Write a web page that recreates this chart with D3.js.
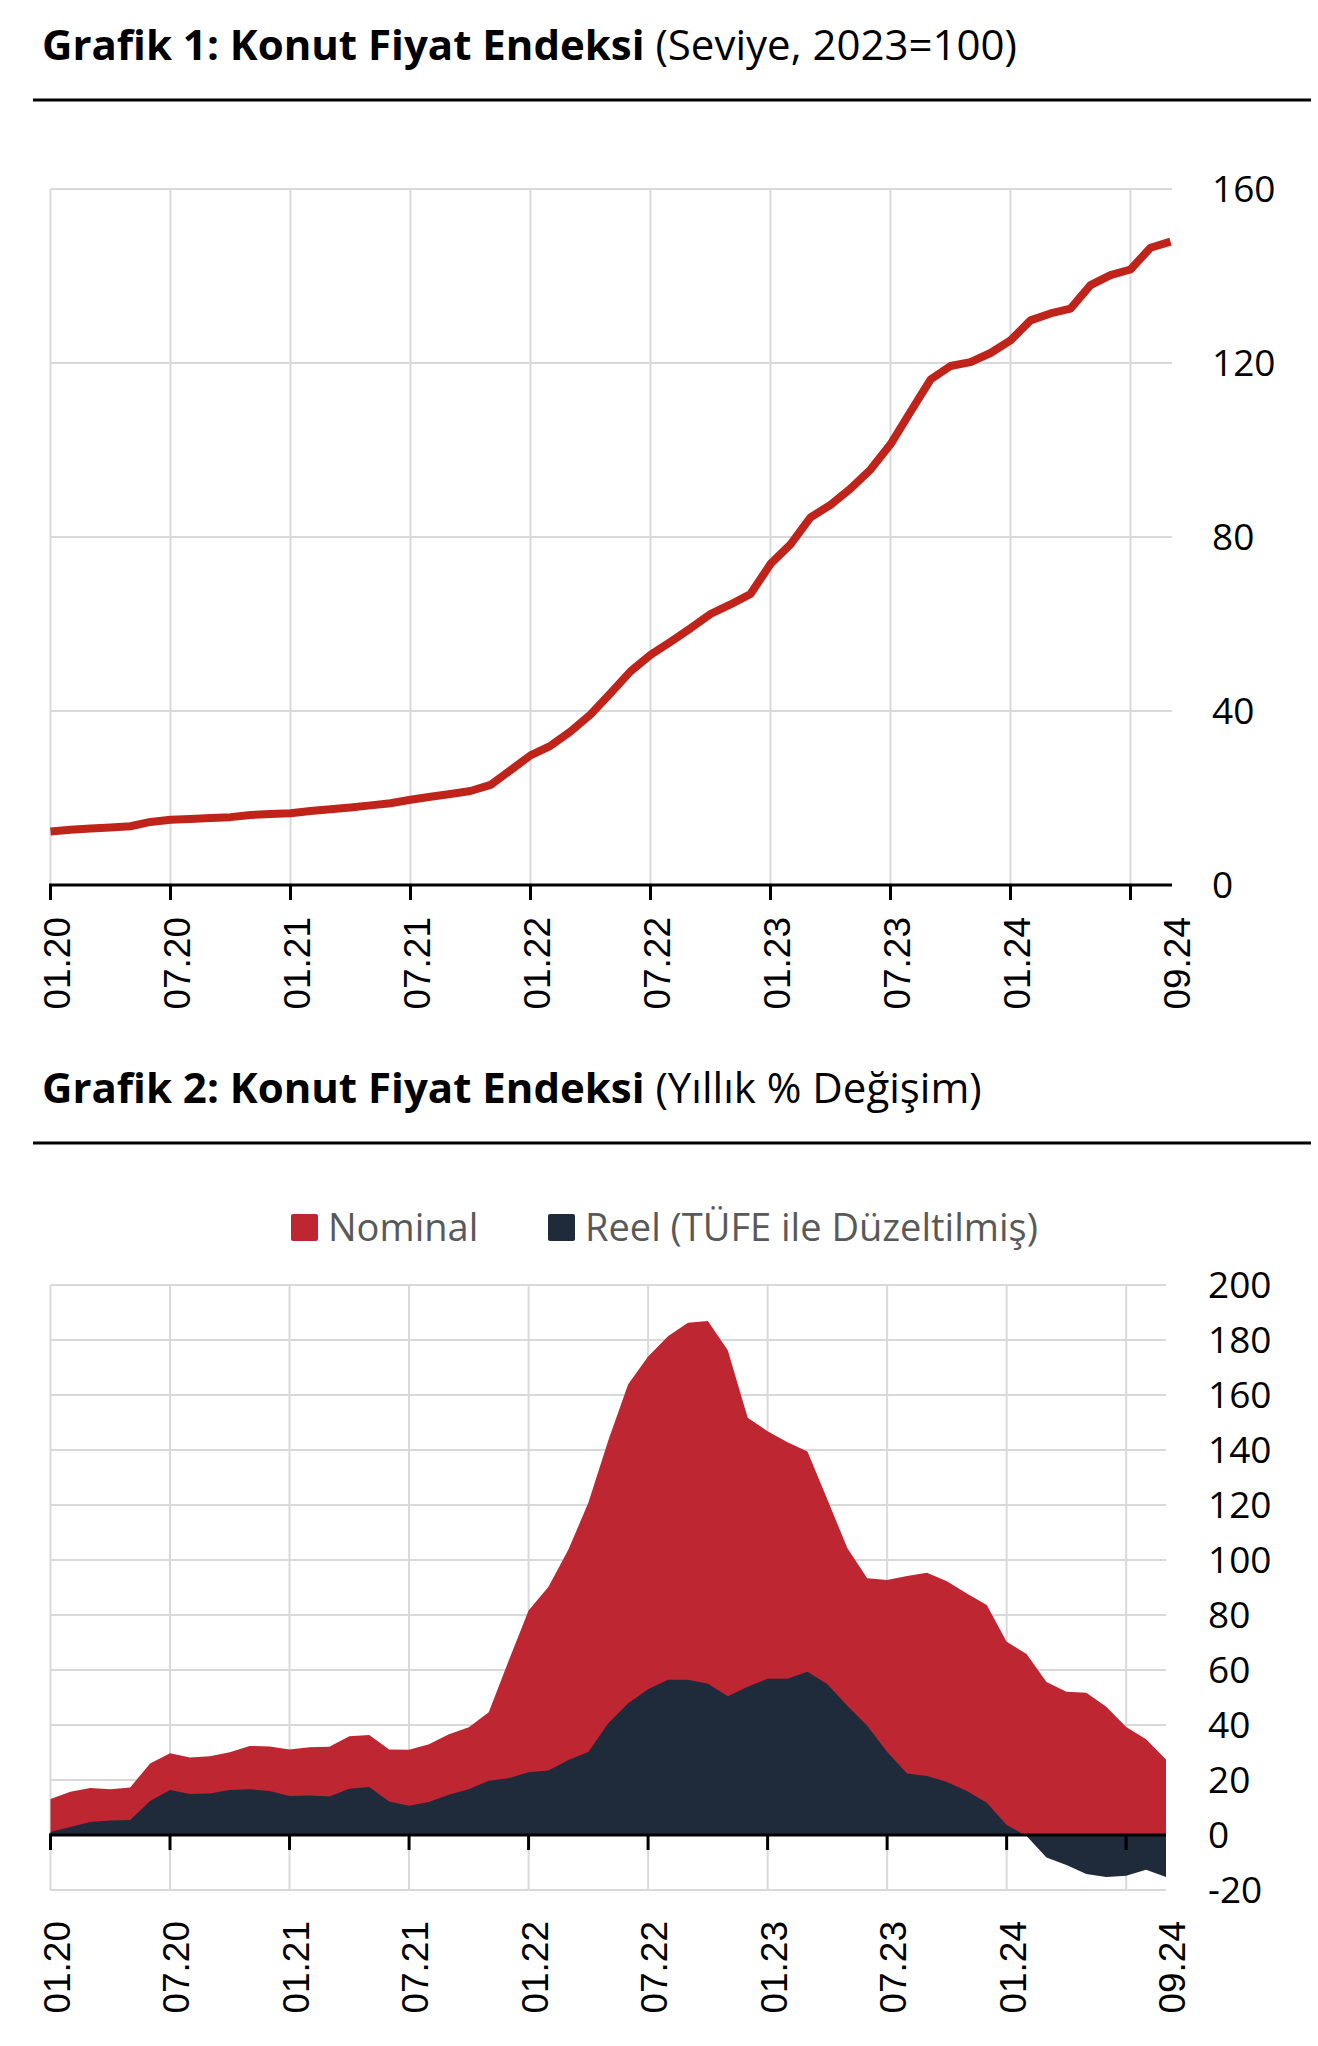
<!DOCTYPE html>
<html>
<head>
<meta charset="utf-8">
<script src="https://cdn.jsdelivr.net/npm/d3@7"></script>
<style>
  body { margin: 0; background: #fff; }
  svg { display: block; }
  .grid { stroke: #d9d9d9; stroke-width: 2; }
  .axis { stroke: #000; stroke-width: 3; }
  .title { font-family: "Open Sans", sans-serif; font-size: 42px; fill: #000; }
  .ylab { font-family: "Open Sans", sans-serif; font-size: 37px; fill: #000; }
  .xlab { font-family: "Liberation Sans", Arial, sans-serif; font-size: 37px; fill: #000; }
  .legend { font-family: "Open Sans", sans-serif; font-size: 38px; fill: #595959; }
</style>
</head>
<body>
<svg id="page" width="1318" height="2046"></svg>
<script>
// months 01.20 .. 09.24
var months = []
for (var yr = 20; yr <= 24; yr++) {
  for (var m = 1; m <= 12; m++) {
    if (yr == 24 && m > 9) break
    months.push((m < 10 ? '0' + m : '' + m) + '.' + yr)
  }
}

var gridMonths = ['01.20','07.20','01.21','07.21','01.22','07.22','01.23','07.23','01.24','07.24']
var labelMonths = ['01.20','07.20','01.21','07.21','01.22','07.22','01.23','07.23','01.24','09.24']

// Grafik 1: konut fiyat endeksi, seviye (2023=100)
var housePrice = [
  12.3, 12.7, 13.0, 13.2, 13.5, 14.5, 15.0, 15.2, 15.4, 15.6, 16.1, 16.3,
  16.5, 17.0, 17.4, 17.8, 18.3, 18.8, 19.6, 20.3, 20.9, 21.6, 23.0, 26.4,
  29.8, 32.0, 35.3, 39.2, 44.1, 49.1, 52.9, 55.9, 59.0, 62.3, 64.5, 66.9,
  73.8, 78.3, 84.5, 87.4, 91.1, 95.5, 101.3, 108.8, 116.2, 119.3, 120.2, 122.3,
  125.2, 129.8, 131.4, 132.5, 137.9, 140.2, 141.5, 146.5, 147.9
]
var yTicks1 = [0, 40, 80, 120, 160]

// Grafik 2: yillik % degisim
var nominal = [
  13.1, 15.7, 17.1, 16.6, 17.3, 26.0, 29.7, 28.2, 28.6, 30.1, 32.4, 32.2,
  31.1, 31.9, 32.1, 35.9, 36.4, 31.1, 31.0, 33.0, 36.6, 39.2, 44.6, 63.4,
  81.6, 90.3, 103.8, 120.8, 143.5, 163.9, 174.0, 181.4, 186.3, 186.9, 176.3, 151.7,
  146.8, 142.8, 139.5, 122.0, 104.4, 93.4, 92.7, 94.2, 95.4, 92.3, 87.8, 83.6,
  70.3, 65.8, 55.6, 52.1, 51.7, 46.6, 39.3, 34.8, 27.5
]
var real = [
  1.1, 2.9, 4.7, 5.3, 5.5, 12.4, 16.4, 14.9, 15.1, 16.4, 16.6, 16.0,
  14.2, 14.4, 14.0, 16.8, 17.5, 12.2, 10.6, 12.0, 14.6, 16.6, 19.7, 20.6,
  22.8, 23.5, 27.3, 30.2, 40.6, 47.9, 53.0, 56.5, 56.5, 55.0, 50.5, 53.9,
  56.8, 56.8, 59.4, 54.8, 47.0, 39.7, 30.2, 22.4, 21.5, 19.3, 16.0, 11.7,
  3.6, -0.4, -8.2, -10.9, -14.2, -15.3, -14.8, -12.6, -15.3
]
var yTicks2 = [-20, 0, 20, 40, 60, 80, 100, 120, 140, 160, 180, 200]
var seriesNames = ['Nominal', 'Reel (TÜFE ile Düzeltilmiş)']
var seriesColors = ['#be2632', '#1f2a3b']

var svg = d3.select('#page')

function drawTitle(y, boldText, normalText) {
  var t = svg.append('text').attr('class', 'title').attr('x', 42).attr('y', y)
  t.append('tspan').attr('font-weight', 700).text(boldText + ' ')
  t.append('tspan').attr('font-weight', 400).text(normalText)
  svg.append('line').attr('x1', 33).attr('x2', 1311)
    .attr('y1', y + 40).attr('y2', y + 40)
    .attr('stroke', '#000').attr('stroke-width', 3)
}

// ---------- chart 1 ----------
drawTitle(60, 'Grafik 1: Konut Fiyat Endeksi', '(Seviye, 2023=100)')

var x1 = d3.scalePoint().domain(months).range([50.5, 1170.5])
var y1 = d3.scaleLinear().domain([0, 160]).range([885, 189])
var g1 = svg.append('g')

g1.selectAll('.hgrid').data(yTicks1.slice(1)).enter().append('line')
  .attr('class', 'grid')
  .attr('x1', 50.5).attr('x2', 1172)
  .attr('y1', function(d) { return y1(d) }).attr('y2', function(d) { return y1(d) })
g1.selectAll('.vgrid').data(gridMonths).enter().append('line')
  .attr('class', 'grid')
  .attr('x1', function(d) { return x1(d) }).attr('x2', function(d) { return x1(d) })
  .attr('y1', y1(160)).attr('y2', y1(0))

g1.append('path')
  .datum(housePrice)
  .attr('fill', 'none')
  .attr('stroke', '#c0231a')
  .attr('stroke-width', 8)
  .attr('stroke-linejoin', 'round')
  .attr('d', d3.line()
    .x(function(d, i) { return x1(months[i]) })
    .y(function(d) { return y1(d) }))

g1.append('line').attr('class', 'axis')
  .attr('x1', 49).attr('x2', 1172).attr('y1', y1(0)).attr('y2', y1(0))
g1.selectAll('.tick').data(gridMonths).enter().append('line')
  .attr('class', 'axis')
  .attr('x1', function(d) { return x1(d) }).attr('x2', function(d) { return x1(d) })
  .attr('y1', y1(0)).attr('y2', y1(0) + 15)

g1.selectAll('.ylab').data(yTicks1).enter().append('text')
  .attr('class', 'ylab')
  .attr('x', 1212).attr('y', function(d) { return y1(d) })
  .attr('dy', '0.36em')
  .text(function(d) { return d })

g1.selectAll('.xlab').data(labelMonths).enter().append('text')
  .attr('class', 'xlab')
  .attr('text-anchor', 'end')
  .attr('transform', function(d) { return 'translate(' + (x1(d) + 19) + ',917) rotate(-90)' })
  .text(function(d) { return d })

// ---------- chart 2 ----------
drawTitle(1103, 'Grafik 2: Konut Fiyat Endeksi', '(Yıllık % Değişim)')

var x2 = d3.scalePoint().domain(months).range([50.5, 1166])
var y2 = d3.scaleLinear().domain([-20, 200]).range([1890, 1285])
var g2 = svg.append('g')

// legend
var legendX = [291, 548]
seriesNames.forEach(function(name, k) {
  g2.append('rect').attr('x', legendX[k]).attr('y', 1214)
    .attr('width', 27).attr('height', 27).attr('rx', 2)
    .attr('fill', seriesColors[k])
  g2.append('text').attr('class', 'legend')
    .attr('x', legendX[k] + 37).attr('y', 1241)
    .text(name)
})

g2.selectAll('.hgrid').data(yTicks2).enter().append('line')
  .attr('class', 'grid')
  .attr('x1', 50.5).attr('x2', 1166)
  .attr('y1', function(d) { return y2(d) }).attr('y2', function(d) { return y2(d) })
g2.selectAll('.vgrid').data(gridMonths).enter().append('line')
  .attr('class', 'grid')
  .attr('x1', function(d) { return x2(d) }).attr('x2', function(d) { return x2(d) })
  .attr('y1', y2(200)).attr('y2', y2(-20))

var area2 = d3.area()
  .x(function(d, i) { return x2(months[i]) })
  .y0(y2(0))
  .y1(function(d) { return y2(d) })

g2.append('path').datum(nominal).attr('fill', seriesColors[0]).attr('d', area2)
g2.append('path').datum(real).attr('fill', seriesColors[1]).attr('d', area2)

g2.append('line').attr('class', 'axis')
  .attr('x1', 49).attr('x2', 1166).attr('y1', y2(0)).attr('y2', y2(0))
g2.selectAll('.tick').data(gridMonths).enter().append('line')
  .attr('class', 'axis')
  .attr('x1', function(d) { return x2(d) }).attr('x2', function(d) { return x2(d) })
  .attr('y1', y2(0)).attr('y2', y2(0) + 15)

g2.selectAll('.ylab').data(yTicks2).enter().append('text')
  .attr('class', 'ylab')
  .attr('x', 1208).attr('y', function(d) { return y2(d) })
  .attr('dy', '0.36em')
  .text(function(d) { return d })

g2.selectAll('.xlab').data(labelMonths).enter().append('text')
  .attr('class', 'xlab')
  .attr('text-anchor', 'end')
  .attr('transform', function(d) { return 'translate(' + (x2(d) + 19) + ',1921) rotate(-90)' })
  .text(function(d) { return d })
</script>
</body>
</html>
